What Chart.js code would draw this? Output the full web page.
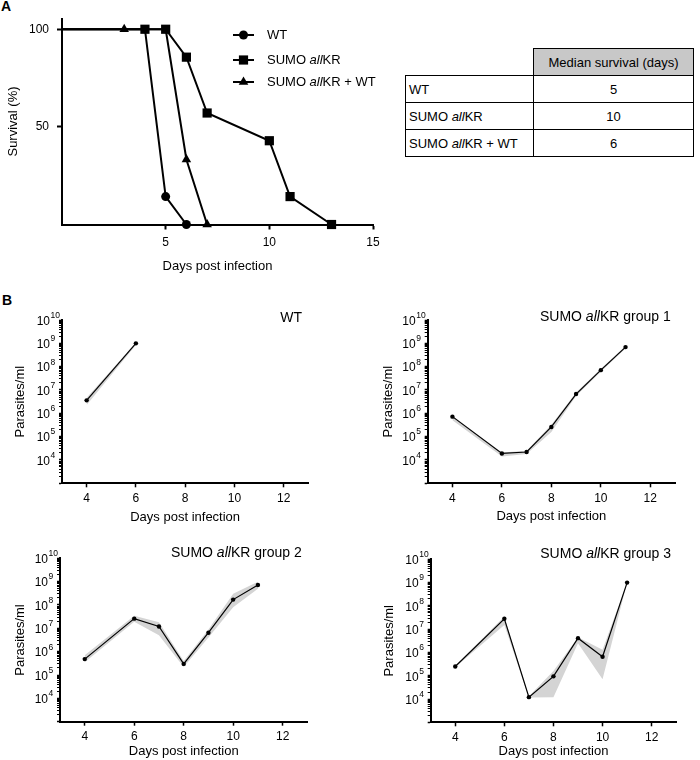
<!DOCTYPE html>
<html>
<head>
<meta charset="utf-8">
<script src="https://cdn.jsdelivr.net/npm/chart.js@4.4.1/dist/chart.umd.min.js"></script>
<style>
html,body{margin:0;padding:0;background:#fff;}
#wrap{position:relative;width:700px;height:760px;overflow:hidden;font-family:'Liberation Sans',Arial,Helvetica,sans-serif;color:#000;}
canvas{position:absolute;}
.plbl{position:absolute;font-weight:bold;font-size:14px;line-height:14px;}
#tbl{position:absolute;left:405px;top:48px;border-collapse:collapse;font-size:13px;}
#tbl td{border:1.5px solid #000;padding:0 3px;height:27px;box-sizing:border-box;}
#tbl td.blank{border:none;}
#tbl td.head{background:#c8c8c8;text-align:center;}
#tbl td.name{width:128px;text-align:left;}
#tbl td.val{width:160px;text-align:center;}
</style>
</head>
<body>
<div id="wrap">
  <div class="plbl" style="left:1px;top:-1px;">A</div>
  <div class="plbl" style="left:2px;top:293px;">B</div>
  <canvas id="cA" width="390" height="285" style="left:0;top:0;"></canvas>
  <table id="tbl"></table>
  <canvas id="cB1" width="350" height="240" style="left:0;top:290px;"></canvas>
  <canvas id="cB2" width="350" height="240" style="left:350px;top:290px;"></canvas>
  <canvas id="cB3" width="350" height="240" style="left:0;top:520px;"></canvas>
  <canvas id="cB4" width="350" height="240" style="left:350px;top:520px;"></canvas>
</div>
<script>
// ---------------- DATA ----------------
// Panel A: survival curves
const groupNames = ['WT', 'SUMO allKR', 'SUMO allKR + WT'];
const survDaysWT = [0, 4, 5, 6];
const survWT = [100, 100, 14.3, 0];
const survDaysKR = [0, 4, 5, 6, 7, 10, 11, 13];
const survKR = [100, 100, 100, 85.7, 57.1, 42.9, 14.3, 0];
const survDaysKRWT = [0, 3, 5, 6, 7];
const survKRWT = [100, 100, 100, 33.3, 0];
const survXTicks = [5, 10, 15];
const survYTicks = [50, 100];
// Median survival table
const tableHeader = 'Median survival (days)';
const medianSurvival = [5, 10, 6];

// Panel B: parasitemia
const panelTitles = ['WT', 'SUMO allKR group 1', 'SUMO allKR group 2', 'SUMO allKR group 3'];
const dayTicksB = [4, 6, 8, 10, 12];
const expLabels = [4, 5, 6, 7, 8, 9, 10];
const daysWT = [4, 6];
const parWT = [3.6e6, 1.0e9];
const loWT = [2.3e6, 8.5e8];
const hiWT = [4.6e6, 1.05e9];
const daysG = [4, 6, 7, 8, 9, 10, 11];
const parG1 = [7.2e5, 1.9e4, 2.2e4, 2.6e5, 6.7e6, 7.1e7, 6.9e8];
const loG1 = [5.0e5, 1.4e4, 1.8e4, 1.6e5, 5.5e6, 6.0e7, 6.0e8];
const hiG1 = [7.8e5, 2.1e4, 2.5e4, 3.2e5, 7.8e6, 8.2e7, 7.6e8];
const parG2 = [4.8e5, 2.6e7, 1.2e7, 3.0e5, 6.5e6, 1.7e8, 7.2e8];
const loG2 = [3.5e5, 1.9e7, 5.0e6, 2.2e5, 4.0e6, 8.0e7, 5.0e8];
const hiG2 = [7.0e5, 3.5e7, 1.8e7, 4.0e5, 9.0e6, 3.0e8, 1.0e9];
const parG3 = [2.5e5, 2.8e7, 1.2e4, 9.4e4, 4.1e6, 6.5e5, 1.0e9];
const loG3 = [2.3e5, 1.5e7, 1.15e4, 1.2e4, 2.5e6, 7.0e4, 1.0e9];
const hiG3 = [2.7e5, 3.5e7, 1.3e4, 1.6e5, 4.5e6, 1.3e6, 1.0e9];

// ---------------- HELPERS ----------------
const FONT = "'Liberation Sans', Arial, Helvetica, sans-serif";
Chart.defaults.font.family = FONT;
Chart.defaults.color = '#000';
const GRAY = 'rgb(212,212,212)';

function pts(xs, ys) { return xs.map((x, i) => ({x: x, y: ys[i]})); }
function splitAll(label) {
  const i = label.indexOf('all');
  if (i < 0) return [{t: label}];
  return [{t: label.slice(0, i)}, {t: 'all', it: true}, {t: label.slice(i + 3)}];
}
function richText(ctx, label, x, y, size, align) {
  const parts = splitAll(label);
  let total = 0;
  parts.forEach(p => {
    ctx.font = (p.it ? 'italic ' : '') + size + 'px ' + FONT;
    p.w = ctx.measureText(p.t).width; total += p.w;
  });
  let cx = align === 'right' ? x - total : x;
  ctx.textAlign = 'left'; ctx.textBaseline = 'middle'; ctx.fillStyle = '#000';
  parts.forEach(p => {
    ctx.font = (p.it ? 'italic ' : '') + size + 'px ' + FONT;
    ctx.fillText(p.t, cx, y); cx += p.w;
  });
}
function htmlLabel(label) {
  return splitAll(label).map(p => p.it ? '<i>' + p.t + '</i>' : p.t).join('');
}

// ---------------- TABLE ----------------
(function () {
  let h = '<tr><td class="blank"></td><td class="head">' + tableHeader + '</td></tr>';
  groupNames.forEach((g, i) => {
    h += '<tr><td class="name">' + htmlLabel(g) + '</td><td class="val">' + medianSurvival[i] + '</td></tr>';
  });
  document.getElementById('tbl').innerHTML = h;
})();

// ---------------- PANEL A ----------------
const legendPlugin = {
  id: 'survLegend',
  afterDraw(chart) {
    const ctx = chart.ctx;
    const rows = [35, 60, 82];
    const styles = ['circle', 'rect', 'triangle'];
    ctx.save();
    groupNames.forEach((g, i) => {
      const y = rows[i];
      ctx.strokeStyle = '#000'; ctx.lineWidth = 2;
      ctx.beginPath(); ctx.moveTo(233, y); ctx.lineTo(254, y); ctx.stroke();
      ctx.fillStyle = '#000';
      ctx.beginPath();
      const cx = 243.5;
      if (styles[i] === 'circle') { ctx.arc(cx, y, 4.5, 0, Math.PI * 2); }
      else if (styles[i] === 'rect') { ctx.rect(cx - 4.6, y - 4.6, 9.2, 9.2); }
      else { ctx.moveTo(cx, y - 5.5); ctx.lineTo(cx + 4.8, y + 2.8); ctx.lineTo(cx - 4.8, y + 2.8); ctx.closePath(); }
      ctx.fill();
      richText(ctx, g, 267, y, 13, 'left');
    });
    ctx.restore();
  }
};

(function () {
  const lh = 13 * 1.2;
  const area = {left: 62, top: 18.5, right: 373, bottom: 224.5};
  const W = 390, H = 285;
  const yTitleX = 13, xTitleY = 266;
  const padLeft = yTitleX - lh / 2;
  const xBoxBottom = xTitleY + lh / 2;
  const common = {borderColor: '#000', backgroundColor: '#000', pointBackgroundColor: '#000',
    pointBorderColor: '#000', pointBorderWidth: 0, borderWidth: 2, tension: 0, fill: false, clip: false};
  new Chart(document.getElementById('cA'), {
    type: 'line',
    data: {
      datasets: [
        Object.assign({label: groupNames[1], data: pts(survDaysKR, survKR), pointStyle: 'rect',
          pointRadius: [0, 6.5, 6.5, 6.5, 6.5, 6.5, 6.5, 6.5]}, common),
        Object.assign({label: groupNames[0], data: pts(survDaysWT, survWT), pointStyle: 'circle',
          pointRadius: [0, 0, 4.5, 4.5]}, common),
        Object.assign({label: groupNames[2], data: pts(survDaysKRWT, survKRWT), pointStyle: 'triangle',
          pointRadius: [0, 5.5, 0, 5.5, 5.5]}, common)
      ]
    },
    options: {
      responsive: false, animation: false, devicePixelRatio: 1, events: [],
      layout: {padding: {left: padLeft, top: area.top, right: W - area.right, bottom: H - xBoxBottom}},
      plugins: {legend: {display: false}, tooltip: {enabled: false}},
      scales: {
        x: {
          type: 'linear', min: 0, max: 15,
          afterBuildTicks: s => { s.ticks = survXTicks.map(v => ({value: v})); },
          afterFit: s => { s.height = xBoxBottom - area.bottom; },
          grid: {drawOnChartArea: false, drawTicks: true, tickLength: 5, tickWidth: 2, tickColor: '#000'},
          border: {color: '#000', width: 2},
          ticks: {font: {size: 12}, padding: 6, color: '#000', maxRotation: 0, autoSkip: false},
          title: {display: true, text: 'Days post infection', font: {size: 13}, color: '#000', padding: {top: 0, bottom: 0}}
        },
        y: {
          type: 'linear', min: 0, max: 105.5,
          afterBuildTicks: s => { s.ticks = survYTicks.map(v => ({value: v})); },
          afterFit: s => { s.width = area.left - padLeft; },
          grid: {drawOnChartArea: false, drawTicks: true, tickLength: 5, tickWidth: 2, tickColor: '#000'},
          border: {color: '#000', width: 2},
          ticks: {font: {size: 12}, padding: 8, color: '#000', autoSkip: false},
          title: {display: true, text: 'Survival (%)', font: {size: 13}, color: '#000', padding: {top: 0, bottom: 0}}
        }
      }
    },
    plugins: [legendPlugin]
  });
})();

// ---------------- PANEL B ----------------
const bDeco = {
  id: 'bDeco',
  afterDraw(chart, args, opts) {
    const ctx = chart.ctx;
    const ys = chart.scales.y;
    const left = chart.chartArea.left;
    ctx.save();
    ctx.fillStyle = '#000';
    expLabels.forEach(k => {
      const y = ys.getPixelForValue(Math.pow(10, k));
      const bx = left - 12;
      ctx.font = '12px ' + FONT; ctx.textAlign = 'right'; ctx.textBaseline = 'middle';
      ctx.fillText('10', bx, y + 1.5);
      ctx.font = '8.5px ' + FONT; ctx.textAlign = 'left';
      ctx.fillText(String(k), bx + 0.5, y - 4.5);
    });
    richText(ctx, opts.title, opts.tx, opts.ty, 14, 'right');
    ctx.restore();
  }
};

function buildLogTicks() {
  const t = [];
  for (let k = 3; k < 10; k++) {
    for (let m = 1; m <= 9; m++) t.push({value: m * Math.pow(10, k), major: m === 1});
  }
  t.push({value: 1e10, major: true});
  return t;
}

function makeB(id, days, vals, lo, hi, title, geo) {
  const W = 350, H = 240, lh = 13 * 1.2;
  const padLeft = geo.yTitleX - lh / 2 - 4;
  const xBoxBottom = geo.xTitleY + lh / 2;
  new Chart(document.getElementById(id), {
    type: 'line',
    data: {
      datasets: [
        {data: pts(days, vals), borderColor: '#000', borderWidth: 1.2, pointRadius: 2.2,
          pointBackgroundColor: '#000', pointBorderWidth: 0, tension: 0, fill: false, clip: false},
        {data: pts(days, hi), borderWidth: 0, borderColor: 'rgba(0,0,0,0)', pointRadius: 0,
          fill: '+1', backgroundColor: GRAY, tension: 0},
        {data: pts(days, lo), borderWidth: 0, borderColor: 'rgba(0,0,0,0)', pointRadius: 0,
          fill: false, tension: 0}
      ]
    },
    options: {
      responsive: false, animation: false, devicePixelRatio: 1, events: [],
      layout: {padding: {left: padLeft, top: geo.top, right: W - geo.right, bottom: H - xBoxBottom}},
      plugins: {legend: {display: false}, tooltip: {enabled: false},
        bDeco: {title: title, tx: geo.tx, ty: geo.ty}},
      scales: {
        x: {
          type: 'linear', min: 3, max: 13,
          afterBuildTicks: s => { s.ticks = dayTicksB.map(v => ({value: v})); },
          afterFit: s => { s.height = xBoxBottom - geo.bottom; },
          grid: {drawOnChartArea: false, drawTicks: true, tickLength: 4, tickWidth: 1.5, tickColor: '#000'},
          border: {color: '#000', width: 2},
          ticks: {font: {size: 12}, padding: 4, color: '#000', maxRotation: 0, autoSkip: false},
          title: {display: true, text: 'Days post infection', font: {size: 13}, color: '#000', padding: {top: 0, bottom: 0}}
        },
        y: {
          type: 'logarithmic', min: 1e3, max: 1e10,
          afterBuildTicks: s => { s.ticks = buildLogTicks(); },
          afterFit: s => { s.width = geo.left - padLeft; },
          grid: {drawOnChartArea: false, drawTicks: true, tickLength: 3,
            tickWidth: c => (c.tick && c.tick.major) ? 1.5 : 1, tickColor: '#000'},
          border: {color: '#000', width: 2},
          ticks: {callback: () => '', autoSkip: false, padding: 0, font: {size: 12}},
          title: {display: true, text: 'Parasites/ml', font: {size: 13}, color: '#000', padding: {top: 4, bottom: 0}}
        }
      }
    },
    plugins: [bDeco]
  });
}

makeB('cB1', daysWT, parWT, loWT, hiWT, panelTitles[0],
  {left: 62, top: 30, right: 308.3, bottom: 193.3, yTitleX: 20.7, xTitleY: 227, tx: 302, ty: 28.3});
makeB('cB2', daysG, parG1, loG1, hiG1, panelTitles[1],
  {left: 77.7, top: 30, right: 325, bottom: 193.3, yTitleX: 38.3, xTitleY: 226.7, tx: 320.7, ty: 27.3});
makeB('cB3', daysG, parG2, loG2, hiG2, panelTitles[2],
  {left: 60, top: 38.3, right: 307.4, bottom: 201.7, yTitleX: 20.7, xTitleY: 231.7, tx: 301.7, ty: 33.3});
makeB('cB4', daysG, parG3, loG3, hiG3, panelTitles[3],
  {left: 80.7, top: 39.3, right: 326.2, bottom: 202.3, yTitleX: 39.3, xTitleY: 231.7, tx: 321, ty: 34.3});
</script>
</body>
</html>
